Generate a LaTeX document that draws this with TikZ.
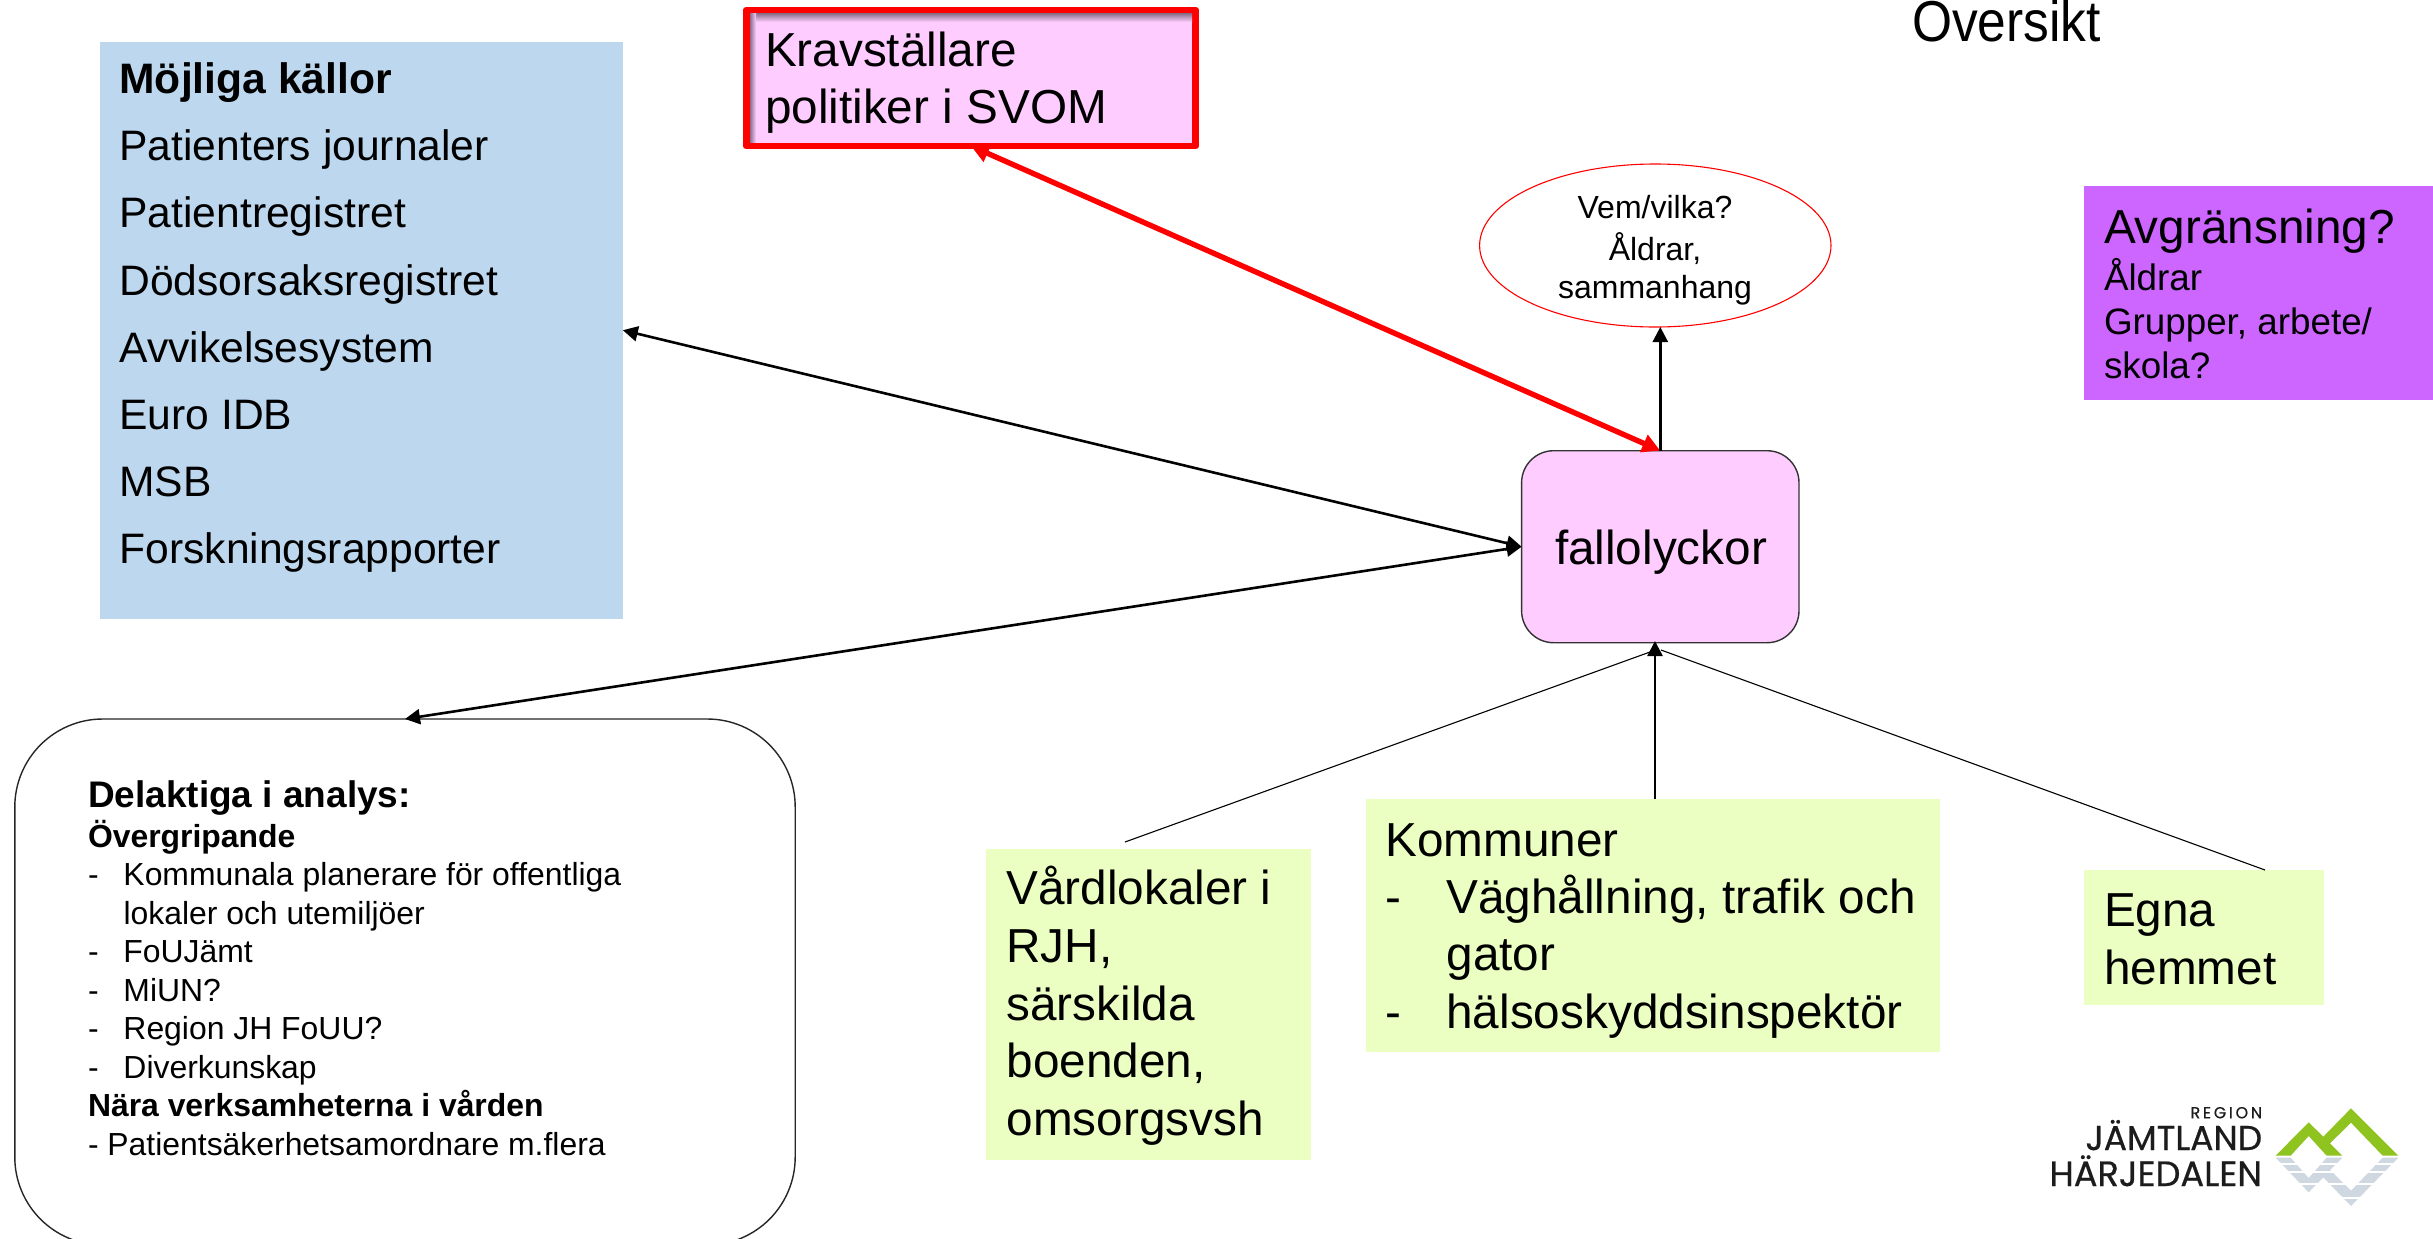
\documentclass[tikz,border=0pt]{standalone}
\usepackage{fontspec}
\setmainfont{Liberation Sans}
\newfontfamily\logofont[FakeBold=0.6]{Poppins}
\usetikzlibrary{arrows.meta,shapes.geometric}
\definecolor{blueb}{HTML}{BDD7EE}
\definecolor{pinkb}{HTML}{FFCCFF}
\definecolor{limeb}{HTML}{EBFFC2}
\definecolor{purpb}{HTML}{CC66FF}
\definecolor{logog}{HTML}{8FC31F}
\definecolor{logob}{HTML}{CFD8E0}
\definecolor{logot}{HTML}{1C1C1C}
\newcommand{\fs}[2]{\fontsize{#1pt}{#2pt}\selectfont}
\newcommand{\dashA}{\makebox[17.75pt][l]{-}}
\newcommand{\dashB}{\makebox[30.5pt][l]{-}}
\tikzset{
  panel/.style={rectangle,inner sep=0pt,outer sep=0pt},
  txt/.style={inner sep=0pt,outer sep=0pt,anchor=north west,align=left},
  btxt/.style={inner sep=0pt,outer sep=0pt,anchor=base west},
  blackarrow/.style={line width=1.3pt,{Triangle[length=7.5pt,width=7.5pt]}-{Triangle[length=7.5pt,width=7.5pt]}},
  onearrow/.style={line width=1.3pt,-{Triangle[length=7.5pt,width=7.5pt]}},
  thinline/.style={line width=.55pt},
  redarrow/.style={draw=red,line width=2.7pt,{Triangle[length=9pt,width=9pt]}-{Triangle[length=9pt,width=9pt]}}
}
\begin{document}
\begin{tikzpicture}[x=.5pt,y=-.5pt]
\clip (0,0) rectangle (2433,1238);
\fill[white] (0,0) rectangle (2433,1238);
% panels
\node[panel,fill=blueb,minimum width=261.4pt,minimum height=288.5pt] (kallor) at (361.4,330.2) {};
\node[panel,fill=pinkb,draw=red,line width=3.4pt,line join=round,minimum width=224.8pt,minimum height=68pt] (krav) at (971,78) {};
\shade[top color=black!45!pinkb,bottom color=pinkb] (750,13.5) rectangle (1192,22);
\shade[left color=black!45!pinkb,right color=pinkb] (750,13.5) rectangle (756,142);
\node[panel,draw=red,line width=.55pt,fill=white,ellipse,minimum width=175.7pt,minimum height=81.5pt] (vem) at (1655.3,245.5) {};
\node[panel,fill=purpb,minimum width=174.5pt,minimum height=107pt] (avgr) at (2258.5,293) {};
\node[panel,fill=pinkb,draw=black!80,line width=.7pt,rounded corners=16pt,minimum width=138.7pt,minimum height=96pt] (fall) at (1660.3,546.7) {};
\node[panel,draw=black!85,line width=.7pt,fill=white,rounded corners=44pt,minimum width=390.2pt,minimum height=263pt] (delak) at (405,982) {};
\node[panel,fill=limeb,minimum width=162.5pt,minimum height=155.5pt] (vard) at (1148.5,1004.5) {};
\node[panel,fill=limeb,minimum width=287pt,minimum height=126.5pt] (komm) at (1653,925.5) {};
\node[panel,fill=limeb,minimum width=120pt,minimum height=67.5pt] (egna) at (2204,937.5) {};
% connector ends
\coordinate (apex) at (1655,641);
\coordinate (ljoin) at (1650,652);
\coordinate (rjoin) at (1661,650);
\coordinate (vstart) at (1125,842);
\coordinate (estart) at (2265,870);
% connectors
\draw[blackarrow] (fall.west) -- (kallor.east);
\draw[blackarrow] (fall.west) -- (delak.north);
\draw[redarrow] (krav.south) -- (fall.north);
\draw[onearrow] (fall.north) -- (fall.north |- vem.south);
\draw[onearrow] (apex |- komm.north) -- (apex);
\draw[thinline] (vstart) -- (ljoin);
\draw[thinline] (estart) -- (rjoin);
% texts
\node[txt,font=\fs{21.3}{33.6}] (tkallor) at (119.5,46.5) {\textbf{Möjliga källor}\strut\\Patienters journaler\\Patientregistret\\Dödsorsaksregistret\\Avvikelsesystem\\Euro IDB\\MSB\\Forskningsrapporter};
\node[txt,font=\fs{23.85}{28.5}] (tkrav) at (765,27) {\strut Kravställare\\politiker i SVOM};
\node[txt,font=\fs{16}{19.1},align=center,anchor=north] (tvem) at (1655,192) {\strut Vem/vilka?\\Åldrar,\\sammanhang};
\node[btxt,font=\fs{25.75}{30}] (tover) at (1912,41) {\scalebox{1}[1.12]{Oversikt}};
\node[btxt,font=\fs{23.85}{28.5}] (tavgr) at (2104,243) {Avgränsning?};
\node[txt,font=\fs{18.4}{22.2}] (tavgr2) at (2104,258) {\strut Åldrar\\Grupper, arbete/\\skola?};
\node[btxt,font=\fs{23.85}{28.5}] (tfall) at (1555,564) {fallolyckor};
\node[btxt,font=\fs{18.5}{22}\bfseries] (tdel) at (88,807) {Delaktiga i analys:};
\node[txt,font=\fs{15.95}{19.25}] (tdel2) at (88,820) {\strut\textbf{Övergripande}\\\dashA Kommunala planerare för offentliga\\\hspace*{17.75pt}lokaler och utemiljöer\\\dashA FoUJämt\\\dashA MiUN?\\\dashA Region JH FoUU?\\\dashA Diverkunskap\\\textbf{Nära verksamheterna i vården}\\- Patientsäkerhetsamordnare m.flera};
\node[txt,font=\fs{23.85}{28.9}] (tvard) at (1006.5,864) {\strut Vårdlokaler i\\RJH,\\särskilda\\boenden,\\omsorgsvsh};
\node[txt,font=\fs{23.85}{28.65}] (tkomm) at (1385.5,816) {\strut Kommuner\\\dashB Väghållning, trafik och\\\hspace*{30.5pt}gator\\\dashB hälsoskyddsinspektör};
\node[txt,font=\fs{23.85}{28.8}] (tegna) at (2104,886.5) {\strut Egna\\hemmet};
% logo
\node[inner sep=0pt,anchor=base east,text=logot] (lreg) at (2262.5,1118.3) {\resizebox{35.8pt}{!}{\logofont R\,E\,G\,I\,O\,N}};
\node[inner sep=0pt,anchor=base east,text=logot] (ljam) at (2262.5,1150) {\resizebox{88.3pt}{!}{\logofont JÄMTLAND}};
\node[inner sep=0pt,anchor=base east,text=logot] (lhar) at (2262.5,1186) {\resizebox{106.3pt}{!}{\logofont HÄRJEDALEN}};
\begin{scope}[shift={(2260,1100)},x=.16667pt,y=-.16667pt]
\fill[logog] (47,167)--(146,67)--(190,110)--(273,25)--(415,167)--(368,167)--(273,68)--(210,130)--(247,167)--(200,167)--(146,108)--(92,167)--cycle;
\fill[logob] (47,173)--(146,277)--(190,232)--(273,318)--(415,173)--(368,173)--(273,272)--(210,210)--(247,173)--(200,173)--(146,234)--(92,173)--cycle;
\fill[white] (40,189) rectangle (420,196);
\fill[white] (40,213) rectangle (420,220);
\fill[white] (40,248) rectangle (420,255);
\fill[white] (40,291) rectangle (420,297);
\end{scope}
\end{tikzpicture}
\end{document}
